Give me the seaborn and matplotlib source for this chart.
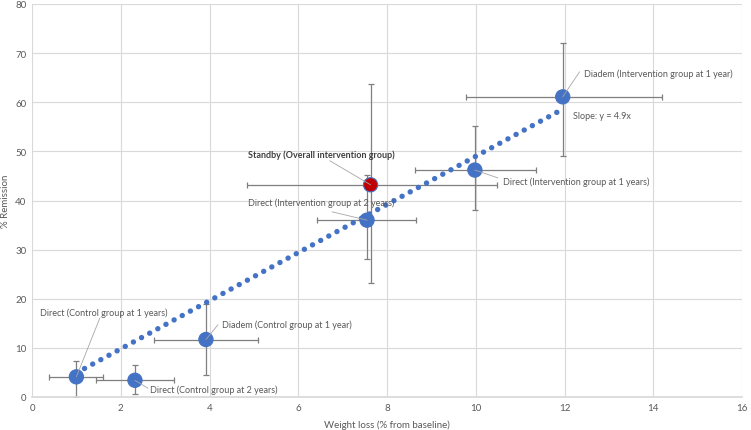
import matplotlib
matplotlib.use("Agg")
import matplotlib.pyplot as plt
import seaborn as sns
import pandas as pd

# ---- data ----
labels = [
    "Direct (Control group at 1 years)",
    "Direct (Control group at 2 years)",
    "Diadem (Control group at 1 year)",
    "Direct (Intervention group at 2 years)",
    "Standby (Overall intervention group)",
    "Direct (Intervention group at 1 years)",
    "Diadem (Intervention group at 1 year)",
]
weight_loss = [1.0, 2.32, 3.92, 7.55, 7.63, 9.98, 11.96]
remission = [4.1, 3.4, 11.7, 36.0, 43.2, 46.2, 61.1]
x_low = [0.38, 1.44, 2.75, 6.42, 4.84, 8.63, 9.77]
x_high = [1.60, 3.20, 5.09, 8.65, 10.47, 11.35, 14.19]
y_low = [0.0, 0.6, 4.5, 28.1, 23.2, 38.1, 49.1]
y_high = [7.3, 6.5, 18.9, 45.2, 63.7, 55.2, 72.1]
group = ["study", "study", "study", "study", "overall", "study", "study"]

trend_x = [1.0, 11.9]
trend_y = [4.9, 58.3]
slope_label = "Slope: y = 4.9x"

x_ticks = [0, 2, 4, 6, 8, 10, 12, 14, 16]
y_ticks = [0, 10, 20, 30, 40, 50, 60, 70, 80]

# label positions (text anchor, leader end)
label_pos = [(0.18, 17.3), (2.66, 1.6), (4.28, 14.9), (4.86, 39.7),
             (4.86, 49.5), (10.61, 44.0), (12.43, 66.0)]
leader_end = [(1.53, 16.1), (2.61, 1.8), (4.19, 14.7), (6.76, 37.7),
              (6.71, 48.1), (10.5, 44.6), (12.34, 66.2)]

df = pd.DataFrame({"label": labels, "x": weight_loss, "y": remission,
                   "group": group})

sns.set_theme(style="whitegrid")
plt.rcParams["font.family"] = ["Lato", "DejaVu Sans"]

fig = plt.figure(figsize=(7.51, 4.31), dpi=100)
ax = fig.add_axes([32 / 751, 1 - 398 / 431, 710 / 751, 393 / 431])

text_c = "#595959"
err_c = "#7f7f7f"

# error bars
for xi, yi, xl, xh, yl, yh in zip(weight_loss, remission, x_low, x_high, y_low, y_high):
    ax.errorbar(xi, yi, xerr=[[xi - xl], [xh - xi]], yerr=[[yi - yl], [yh - yi]],
                fmt="none", ecolor=err_c, elinewidth=0.9, capsize=2.2,
                capthick=0.9, zorder=2)

# trend line
ax.plot(trend_x, trend_y, color="#4472C4", lw=3.9,
        linestyle=(0, (0.01, 1.7)), dash_capstyle="round", zorder=3)

# points
sns.scatterplot(data=df, x="x", y="y", hue="group",
                palette={"study": "#4472C4", "overall": "#C00000"},
                s=105, edgecolor="#4472C4", linewidth=0.8, legend=False,
                ax=ax, zorder=4)

# labels and leader lines
for i, lab in enumerate(labels):
    tx, ty = label_pos[i]
    ex, ey = leader_end[i]
    ax.plot([weight_loss[i], ex], [remission[i], ey], color="#a6a6a6",
            lw=0.6, zorder=5)
    ax.text(tx, ty, lab, fontsize=6.5, color=text_c if group[i] == "study" else "#404040",
            fontweight="bold" if group[i] == "overall" else "normal",
            va="center", ha="left", zorder=6)
ax.text(12.19, 57.4, slope_label, fontsize=6.5, color=text_c, va="center", ha="left")

ax.set_xlim(0, 16)
ax.set_ylim(0, 80)
ax.set_xticks(x_ticks)
ax.set_yticks(y_ticks)
ax.tick_params(axis="both", labelsize=7.0, colors=text_c, length=0, pad=4)
ax.grid(True, color="#d9d9d9", lw=0.8)
for s in ax.spines.values():
    s.set_visible(False)
ax.spines["bottom"].set_visible(True)
ax.spines["bottom"].set_color("#d9d9d9")
ax.set_facecolor("white")
ax.set_xlabel("Weight loss (% from baseline)", fontsize=7.0, color=text_c, labelpad=6)
ax.set_ylabel("% Remission", fontsize=7.0, color=text_c, labelpad=4)

fig.savefig("out.png", dpi=100, facecolor="white")
